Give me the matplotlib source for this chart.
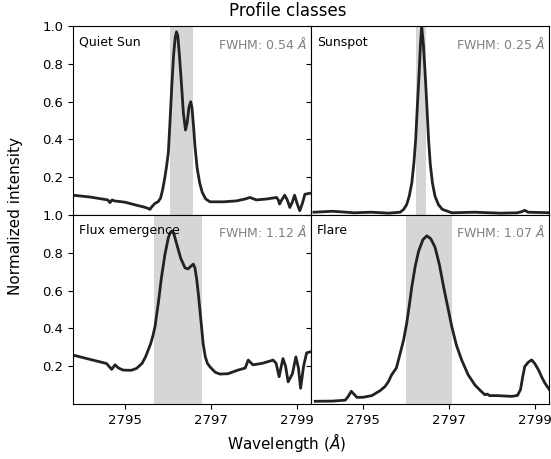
import matplotlib.pyplot as plt
import numpy as np

# profile data (wavelength in Angstrom, normalized intensity)
quiet_x = [2793.79, 2794.2, 2794.6, 2794.65, 2794.7, 2794.75, 2795.0, 2795.27, 2795.45, 2795.54,
           2795.58, 2795.63, 2795.7, 2795.77, 2795.83, 2795.88, 2795.93, 2795.97, 2796.01, 2796.05,
           2796.09, 2796.13, 2796.17, 2796.2, 2796.23, 2796.27, 2796.32, 2796.36, 2796.41, 2796.45,
           2796.49, 2796.53, 2796.56, 2796.6, 2796.63, 2796.68, 2796.74, 2796.8, 2796.88, 2796.98,
           2797.3, 2797.6, 2797.8, 2797.91, 2798.06, 2798.3, 2798.53, 2798.57, 2798.6, 2798.65,
           2798.72, 2798.78, 2798.84, 2798.9, 2798.95, 2799.01, 2799.07, 2799.13, 2799.19, 2799.3]
quiet_y = [0.105, 0.095, 0.08, 0.066, 0.08, 0.075, 0.068, 0.052, 0.042, 0.035,
           0.03, 0.045, 0.062, 0.07, 0.09, 0.137, 0.2, 0.26, 0.33, 0.5,
           0.68, 0.84, 0.94, 0.97, 0.95, 0.84, 0.68, 0.54, 0.45, 0.49,
           0.57, 0.60, 0.57, 0.46, 0.365, 0.25, 0.17, 0.12, 0.085, 0.07,
           0.07, 0.075, 0.085, 0.093, 0.08, 0.085, 0.093, 0.08, 0.058, 0.08,
           0.105, 0.08, 0.04, 0.07, 0.105, 0.06, 0.023, 0.06, 0.11, 0.115]

spot_x = [2793.86, 2794.3, 2794.8, 2795.2, 2795.6, 2795.87, 2795.95, 2796.02, 2796.08, 2796.14,
          2796.19, 2796.23, 2796.27, 2796.31, 2796.34, 2796.37, 2796.41, 2796.45, 2796.49, 2796.53,
          2796.57, 2796.62, 2796.68, 2796.76, 2796.85, 2797.07, 2797.6, 2798.2, 2798.6, 2798.7,
          2798.77, 2798.85, 2799.4]
spot_y = [0.015, 0.02, 0.012, 0.015, 0.01, 0.015, 0.03, 0.055, 0.1, 0.17,
          0.28, 0.40, 0.58, 0.75, 0.9, 1.0, 0.9, 0.75, 0.58, 0.40,
          0.27, 0.17, 0.1, 0.055, 0.03, 0.012, 0.015, 0.01, 0.012, 0.018,
          0.025, 0.015, 0.012]

flux_x = [2793.8, 2794.2, 2794.57, 2794.69, 2794.77, 2794.85, 2794.96, 2795.15, 2795.27, 2795.4,
          2795.48, 2795.54, 2795.6, 2795.65, 2795.70, 2795.78, 2795.85, 2795.93, 2796.01, 2796.05,
          2796.09, 2796.14, 2796.2, 2796.3, 2796.4, 2796.47, 2796.54, 2796.59, 2796.63, 2796.67,
          2796.71, 2796.77, 2796.82, 2796.87, 2796.92, 2796.98, 2797.1, 2797.21, 2797.4, 2797.63,
          2797.8, 2797.87, 2797.98, 2798.2, 2798.45, 2798.52, 2798.59, 2798.64, 2798.68, 2798.74,
          2798.8, 2798.9, 2798.98, 2799.04, 2799.09, 2799.16, 2799.23, 2799.3]
flux_y = [0.258, 0.235, 0.214, 0.183, 0.207, 0.19, 0.179, 0.178, 0.188, 0.215,
          0.25, 0.284, 0.32, 0.36, 0.41, 0.54, 0.67, 0.79, 0.88, 0.905,
          0.916, 0.9, 0.85, 0.77, 0.72, 0.715, 0.73, 0.74, 0.72, 0.66,
          0.58, 0.44, 0.32, 0.25, 0.215, 0.196, 0.168, 0.158, 0.16, 0.179,
          0.19, 0.232, 0.207, 0.215, 0.232, 0.215, 0.144, 0.2, 0.24, 0.2,
          0.117, 0.16, 0.249, 0.19, 0.083, 0.2, 0.27, 0.275]

flare_x = [2793.89, 2794.3, 2794.59, 2794.66, 2794.73, 2794.8, 2794.86, 2795.0, 2795.21, 2795.4,
           2795.52, 2795.6, 2795.67, 2795.78, 2795.87, 2795.95, 2796.02, 2796.08, 2796.14, 2796.22,
           2796.3, 2796.4, 2796.49, 2796.58, 2796.68, 2796.78, 2796.88, 2796.98, 2797.07, 2797.18,
           2797.3, 2797.45, 2797.61, 2797.74, 2797.84, 2797.9, 2797.95, 2798.12, 2798.3, 2798.47,
           2798.6, 2798.67, 2798.72, 2798.77, 2798.85, 2798.93, 2799.0, 2799.09, 2799.17, 2799.24,
           2799.38]
flare_y = [0.014, 0.015, 0.02, 0.04, 0.067, 0.05, 0.035, 0.035, 0.044, 0.07,
           0.093, 0.12, 0.154, 0.19, 0.268, 0.34, 0.426, 0.52, 0.62, 0.73,
           0.81, 0.87, 0.89, 0.875, 0.83, 0.74, 0.62, 0.51, 0.41, 0.31,
           0.233, 0.155, 0.10, 0.07, 0.049, 0.052, 0.044, 0.044, 0.042, 0.04,
           0.045, 0.075, 0.14, 0.198, 0.22, 0.233, 0.215, 0.18, 0.14, 0.11,
           0.063]

titles = ['Quiet Sun', 'Sunspot', 'Flux emergence', 'Flare']
fwhm = [0.54, 0.25, 1.12, 1.07]
span_lo = [2796.05, 2796.23, 2795.67, 2796.0]
profiles = [(quiet_x, quiet_y), (spot_x, spot_y), (flux_x, flux_y), (flare_x, flare_y)]

fig, axs = plt.subplots(2, 2, sharex=True, sharey=True, figsize=(5.51, 4.59), dpi=100)
plt.subplots_adjust(left=0.1325, right=0.996, top=0.943, bottom=0.12, hspace=0, wspace=0)

for ax, name, fw, lo, (x, y) in zip(axs.flat, titles, fwhm, span_lo, profiles):
    ax.axvspan(lo, lo + fw, color='#d6d6d6', lw=0)
    ax.plot(x, y, color='#222222', lw=2, solid_joinstyle='round')
    ax.text(0.025, 0.95, name, transform=ax.transAxes, ha='left', va='top', fontsize=9)
    ax.text(0.985, 0.95, f'FWHM: {fw:.2f} $\\AA$', transform=ax.transAxes, ha='right', va='top',
            fontsize=9, color='gray')
    ax.tick_params(labelsize=9.5)

axs[0, 0].set_xlim(2793.79, 2799.33)
axs[0, 0].set_ylim(0, 1.0)
axs[0, 0].set_yticks([0.2, 0.4, 0.6, 0.8, 1.0])
axs[0, 0].set_xticks([2795, 2797, 2799])

fig.suptitle('Profile classes', x=0.523, y=0.995, fontsize=12)
fig.text(0.52, 0.035, 'Wavelength ($\\AA$)', ha='center', va='center', fontsize=11)
fig.text(0.028, 0.53, 'Normalized intensity', ha='center', va='center', rotation=90, fontsize=11)

plt.savefig('out.png')
